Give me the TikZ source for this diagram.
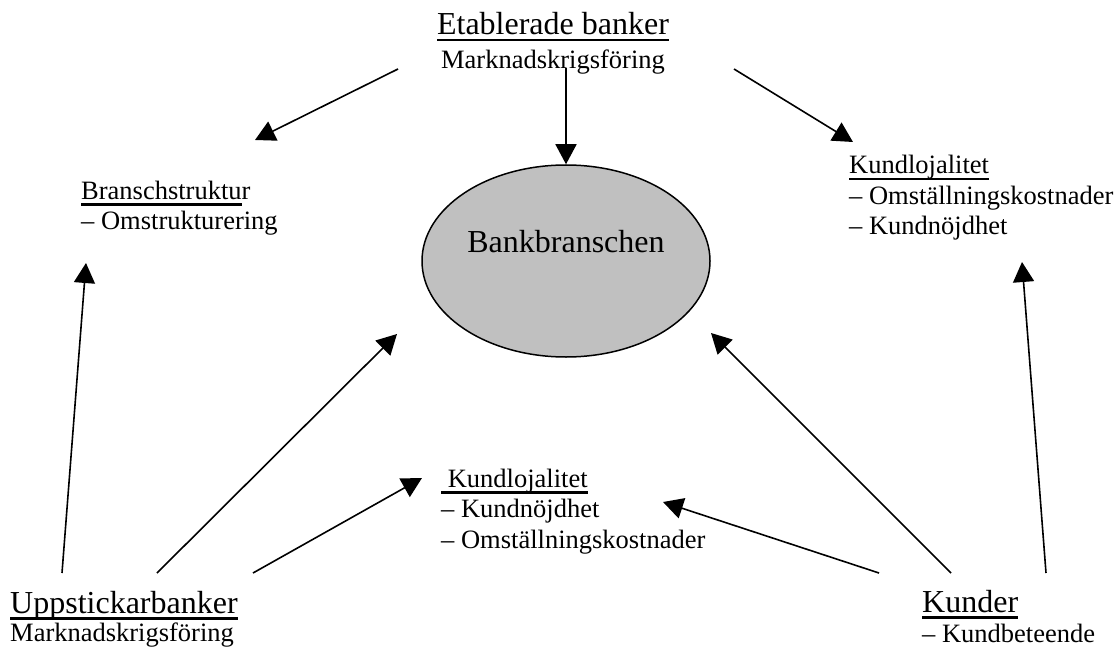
\documentclass[tikz,border=0pt]{standalone}
\usepackage{fontspec}
\setmainfont{Liberation Serif}
\usetikzlibrary{arrows.meta,shapes.geometric}
\newcommand\myul[2][2.2pt]{\setbox0\hbox{#2}\rlap{\rule[-6.5pt]{\wd0}{#1}}\box0}
\definecolor{ellgray}{HTML}{C0C0C0}
\begin{document}
\begin{tikzpicture}[x=1pt,y=-1pt,
  big/.style={inner sep=0pt,anchor=base west,font=\fontsize{32}{34}\selectfont},
  small/.style={inner sep=0pt,anchor=base west,align=left,font=\fontsize{26.5}{30.5}\selectfont},
  conn/.style={line width=1.6pt,-{Triangle[length=20pt,width=21pt]}}]
\useasboundingbox (0,0) rectangle (1118,647);
% central ellipse
\node[ellipse,draw,line width=1.5pt,fill=ellgray,minimum width=288pt,minimum height=192pt,inner sep=0pt] (ell) at (566,261) {};
\node[inner sep=0pt,anchor=base,font=\fontsize{32}{34}\selectfont] (ellt) at (566,252) {Bankbranschen};
% top
\node[big,anchor=base] (etab) at (553,35) {\myul[2.6pt]{Etablerade banker}};
\node[small,anchor=base] (etabsub) at (553,69) {Marknadskrigsföring};
% left (anchor at last line baseline)
\node[small] (bransch) at (81,229.5) {\myul{Branschstruktu}r\\– Omstrukturering};
% right
\node[small] (kundr) at (849,234.5) {\myul{Kundlojalitet}\\– Omställningskostnader\\– Kundnöjdhet};
% middle
\node[small] (kundm) at (441,548) {\myul{\ Kundlojalitet}\\– Kundnöjdhet\\– Omställningskostnader};
% bottom left
\node[big] (upp) at (10,613) {\myul[2.6pt]{Uppstickarbanker}};
\node[small] (uppsub) at (10,641) {Marknadskrigsföring};
% bottom right
\node[big] (kunder) at (922,612) {\myul[2.6pt]{Kunder}};
\node[small] (kundersub) at (922,642) {– Kundbeteende};
% connector ends
\coordinate (e1) at (398,69);
\coordinate (t1) at (255,140);
\coordinate (e2) at (566,68);
\coordinate (e3) at (734,69);
\coordinate (t3) at (853,142);
\coordinate (u1) at (62,573);
\coordinate (t4) at (86,263);
\coordinate (u2) at (157,573);
\coordinate (t5) at (397,334);
\coordinate (u3) at (253,573);
\coordinate (t6) at (422,478);
\coordinate (k1) at (879,573);
\coordinate (t7) at (663,502);
\coordinate (k2) at (951,573);
\coordinate (t8) at (711,333);
\coordinate (k3) at (1046,573);
\coordinate (t9) at (1022,262);
\draw[conn] (e1) -- (t1);
\draw[conn] (e2) -- (ell.north);
\draw[conn] (e3) -- (t3);
\draw[conn] (u1) -- (t4);
\draw[conn] (u2) -- (t5);
\draw[conn] (u3) -- (t6);
\draw[conn] (k1) -- (t7);
\draw[conn] (k2) -- (t8);
\draw[conn] (k3) -- (t9);
\end{tikzpicture}
\end{document}
